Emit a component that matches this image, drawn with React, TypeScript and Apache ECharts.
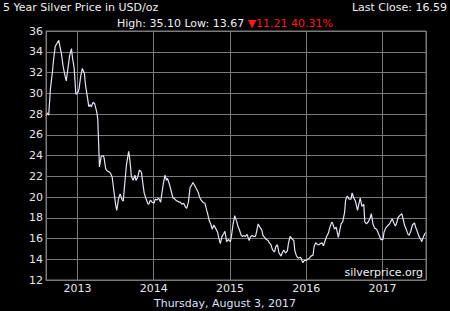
import React, { useEffect, useRef } from "react";
import * as echarts from "echarts";

// Months covered by the chart, each sampled on these days
const months = [
  "2012-08", "2012-09", "2012-10", "2012-11", "2012-12",
  "2013-01", "2013-02", "2013-03", "2013-04", "2013-05", "2013-06",
  "2013-07", "2013-08", "2013-09", "2013-10", "2013-11", "2013-12",
  "2014-01", "2014-02", "2014-03", "2014-04", "2014-05", "2014-06",
  "2014-07", "2014-08", "2014-09", "2014-10", "2014-11", "2014-12",
  "2015-01", "2015-02", "2015-03", "2015-04", "2015-05", "2015-06",
  "2015-07", "2015-08", "2015-09", "2015-10", "2015-11", "2015-12",
  "2016-01", "2016-02", "2016-03", "2016-04", "2016-05", "2016-06",
  "2016-07", "2016-08", "2016-09", "2016-10", "2016-11", "2016-12",
  "2017-01", "2017-02", "2017-03", "2017-04", "2017-05", "2017-06",
  "2017-07",
];
const sampleDays = ["03", "08", "16", "24"];

// Silver price (USD/oz), four readings per month
const prices = [
  [27.8, 28.1, 27.9, 30.4],
  [32.1, 33.2, 34.5, 34.8],
  [35.1, 34.6, 33.8, 32.6],
  [31.6, 31.2, 32.4, 33.6],
  [34.3, 33.4, 32.4, 29.9],
  [30.1, 30.4, 31.6, 32.4],
  [31.9, 30.8, 29.8, 28.7],
  [28.9, 28.7, 29.1, 29.0],
  [28.2, 27.5, 22.9, 23.9],
  [24.0, 23.8, 22.7, 22.5],
  [22.4, 22.3, 21.9, 20.6],
  [19.2, 18.7, 19.8, 20.3],
  [19.7, 19.6, 21.5, 23.2],
  [24.4, 23.7, 22.0, 21.6],
  [22.1, 21.6, 21.9, 22.6],
  [22.4, 21.6, 20.4, 19.9],
  [19.4, 19.3, 19.7, 19.5],
  [19.4, 19.8, 19.7, 19.9],
  [19.5, 20.2, 21.3, 22.1],
  [21.6, 21.8, 21.3, 20.7],
  [19.9, 19.9, 19.7, 19.6],
  [19.5, 19.5, 19.3, 19.4],
  [19.0, 18.9, 19.5, 20.9],
  [21.2, 21.4, 21.1, 20.8],
  [20.4, 20.0, 19.7, 19.5],
  [19.4, 19.0, 18.4, 17.7],
  [17.3, 16.9, 17.3, 17.0],
  [16.6, 16.1, 15.5, 16.2],
  [16.5, 16.7, 15.7, 15.9],
  [15.7, 16.2, 17.4, 18.2],
  [17.6, 17.2, 16.8, 16.3],
  [16.2, 16.3, 16.2, 16.4],
  [15.8, 16.1, 16.3, 16.2],
  [16.2, 16.6, 17.4, 17.1],
  [16.8, 16.3, 16.1, 15.9],
  [15.8, 15.6, 15.4, 14.9],
  [14.7, 15.2, 15.4, 14.6],
  [14.3, 14.6, 14.9, 14.6],
  [14.8, 15.5, 16.2, 16.0],
  [15.8, 14.8, 14.3, 14.1],
  [14.2, 14.1, 13.67, 13.9],
  [13.9, 14.0, 14.1, 14.3],
  [14.4, 15.2, 15.6, 15.4],
  [15.4, 15.5, 15.6, 15.3],
  [15.9, 16.2, 16.5, 17.1],
  [17.6, 17.4, 16.9, 17.1],
  [16.1, 16.6, 17.4, 17.6],
  [18.5, 19.7, 20.1, 19.8],
  [19.8, 20.4, 19.9, 19.6],
  [18.7, 19.2, 19.9, 19.1],
  [19.3, 17.6, 17.4, 17.6],
  [18.0, 18.4, 17.4, 17.0],
  [16.9, 16.7, 16.3, 15.9],
  [15.9, 16.6, 17.0, 17.2],
  [17.4, 17.6, 17.9, 17.5],
  [17.2, 17.4, 18.0, 18.2],
  [18.4, 18.0, 17.3, 16.9],
  [16.4, 16.3, 16.7, 17.3],
  [17.5, 17.1, 16.7, 16.2],
  [15.9, 15.7, 16.2, 16.5],
];
const lastDate = "2017-07-28";
const lastClose = 16.59;

const yTicks = { min: 12, max: 36, step: 2 };
const axisStart = "2012-08-03";

const titleText = "5 Year Silver Price in USD/oz";
const highText = "High: 35.10 Low: 13.67";
const changeText = "▼11.21 40.31%";
const lastCloseText = "Last Close: 16.59";
const dateText = "Thursday, August 3, 2017";
const siteText = "silverprice.org";

const FONT = "DejaVu Sans";

export default function App() {
  const ref = useRef<HTMLDivElement>(null);
  useEffect(() => {
    if (!ref.current) return;
    const chart = echarts.init(ref.current, null, { renderer: "svg" });
    const data: [string, number][] = [];
    months.forEach((m, i) => {
      sampleDays.forEach((d, j) => {
        data.push([`${m}-${d}`, prices[i][j]]);
      });
    });
    data.push([lastDate, lastClose]);

    const gridColor = "#7a7a7a";
    chart.setOption({
      animation: false,
      backgroundColor: "#000",
      grid: { left: 46, right: 24, top: 31, bottom: 31, containLabel: false },
      xAxis: {
        type: "time",
        min: axisStart,
        max: lastDate,
        minInterval: 360 * 24 * 3600 * 1000,
        axisLine: { show: true, lineStyle: { color: gridColor } },
        axisTick: { show: false },
        splitLine: { show: true, lineStyle: { color: gridColor, width: 1 } },
        axisLabel: {
          formatter: "{yyyy}",
          color: "#e6e6e6",
          fontFamily: FONT,
          fontSize: 11,
          margin: 3,
          showMinLabel: false,
          showMaxLabel: false,
        },
      },
      yAxis: {
        type: "value",
        min: yTicks.min,
        max: yTicks.max,
        interval: yTicks.step,
        axisLine: { show: true, lineStyle: { color: gridColor } },
        axisTick: { show: false },
        splitLine: { show: true, lineStyle: { color: gridColor, width: 1 } },
        axisLabel: {
          color: "#e6e6e6",
          fontFamily: FONT,
          fontSize: 11,
          margin: 3,
        },
      },
      graphic: [
        {
          type: "rect",
          shape: { x: 46, y: 31, width: 380, height: 249 },
          style: { fill: "none", stroke: gridColor, lineWidth: 1 },
          silent: true,
          z: 10,
        },
        {
          type: "text",
          x: 3,
          y: 2,
          style: { text: titleText, fill: "#f0f0f0", font: `11px '${FONT}'`, textVerticalAlign: "top" },
        },
        {
          type: "text",
          x: 447,
          y: 2,
          style: { text: lastCloseText, fill: "#f0f0f0", font: `11px '${FONT}'`, textAlign: "right", textVerticalAlign: "top" },
        },
        {
          type: "text",
          x: 225,
          y: 18,
          style: {
            text: `${highText} {r|${changeText}}`,
            fill: "#f0f0f0",
            font: `11px '${FONT}'`,
            textAlign: "center",
            textVerticalAlign: "top",
            rich: { r: { fill: "#ff1a1a", font: `11px '${FONT}'` } },
          },
        },
        {
          type: "text",
          x: 225,
          y: 298,
          style: { text: dateText, fill: "#dde0ff", font: `11px '${FONT}'`, textAlign: "center", textVerticalAlign: "top" },
        },
        {
          type: "text",
          x: 423,
          y: 267,
          style: { text: siteText, fill: "#f0f0f0", font: `11px '${FONT}'`, textAlign: "right", textVerticalAlign: "top" },
          z: 20,
        },
      ],
      series: [
        {
          type: "line",
          data,
          showSymbol: false,
          symbol: "none",
          lineStyle: { color: "#e4e4f4", width: 1.2 },
          z: 5,
        },
      ],
    });
    return () => chart.dispose();
  }, []);
  return (
    <div
      ref={ref}
      style={{ position: "fixed", left: 0, top: 0, width: 450, height: 311 }}
    />
  );
}
